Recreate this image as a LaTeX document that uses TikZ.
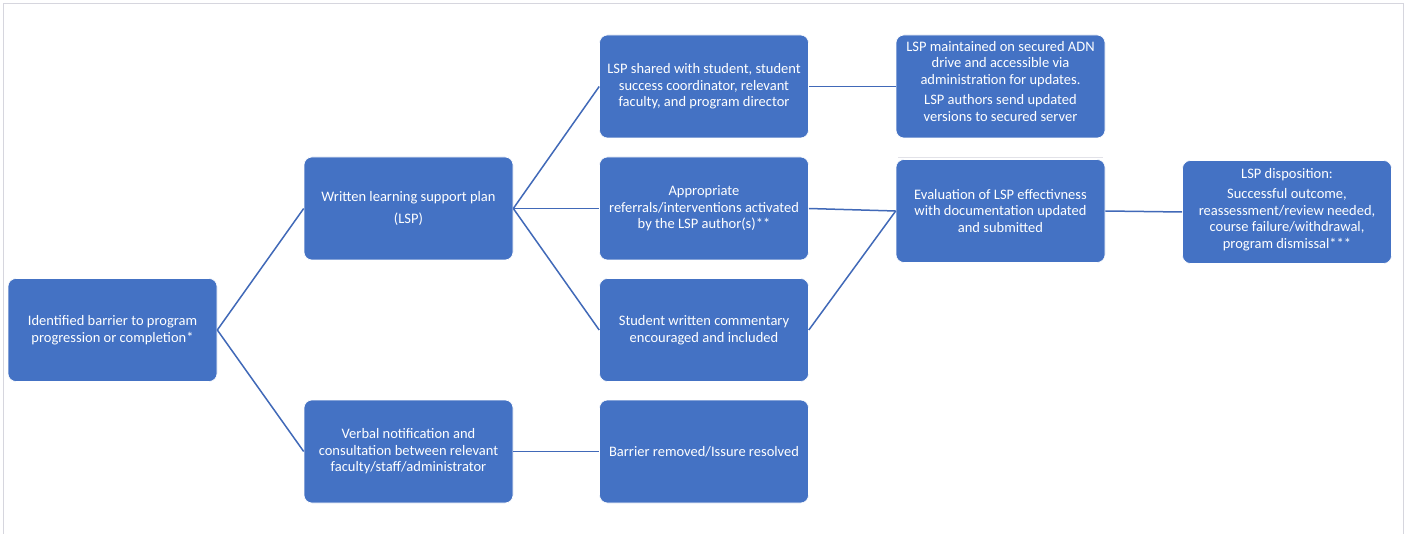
\documentclass[tikz,border=0pt]{standalone}
\usepackage{fontspec}
\setmainfont{Carlito}
\definecolor{boxblue}{HTML}{4472C4}
\definecolor{lineblue}{HTML}{4169B8}
\definecolor{framegray}{HTML}{D6D6DE}
\begin{document}
\begin{tikzpicture}[x=1pt,y=-1pt,
  txt/.style={text=white, align=center, inner sep=0pt, font=\fontsize{14.5}{16.5}\selectfont},
  box/.style={txt, fill=boxblue, draw=white, line width=0.6pt, rounded corners=8pt, minimum width=209pt, minimum height=103pt},
  conn/.style={draw=lineblue, line width=1.5pt}]
\useasboundingbox (0,0) rectangle (1407,534);
\fill[white] (0,0) rectangle (1407,534);
\draw[framegray, line width=1pt] (3,534) -- (3,4) -- (1403,4) -- (1403,534);
% nodes
\node[box] (idb) at (112.5,330) {Identified barrier to program\\progression or completion*};
\node[box] (wlsp) at (408.5,208.5) {Written learning support plan\\[5pt](LSP)};
\node[box] (verb) at (408.5,451.5) {Verbal notification and\\consultation between relevant\\faculty/staff/administrator};
\node[box] (shared) at (704,86.5) {LSP shared with student, student\\success coordinator, relevant\\faculty, and program director};
\node[box] (approp) at (704,208.5) {Appropriate\\referrals/interventions activated\\by the LSP author(s)**};
\node[box] (stud) at (704,330) {Student written commentary\\encouraged and included};
\node[box] (barr) at (704,451.5) {Barrier removed/Issure resolved};
\node[box] (maint) at (1000.5,86.5) {};
\node[txt, anchor=north] (mainttxt) at (1000.5,41) {LSP maintained on secured ADN\\drive and accessible via\\administration for updates.\\[4pt]LSP authors send updated\\versions to secured server};
\draw[framegray!70, line width=0.8pt] (898,157) -- (1103,157);
\node[box] (eval) at (1000.5,211) {Evaluation of LSP effectivness\\with documentation updated\\and submitted};
\node[box] (disp) at (1287,212) {};
\node[txt, anchor=north] (disptxt) at (1287,168) {LSP disposition:\\[4pt]Successful outcome,\\reassessment/review needed,\\course failure/withdrawal,\\program dismissal***};
% connectors
\draw[conn] (idb.east) -- (wlsp.west);
\draw[conn] (idb.east) -- (verb.west);
\draw[conn] (wlsp.east) -- (shared.west);
\draw[conn] (wlsp.east) -- (approp.west);
\draw[conn] (wlsp.east) -- (stud.west);
\draw[conn] (verb.east) -- (barr.west);
\draw[conn] (shared.east) -- (maint.west);
\draw[conn] (approp.east) -- (eval.west);
\draw[conn] (stud.east) -- (eval.west);
\draw[conn] (eval.east) -- (disp.west);
\end{tikzpicture}
\end{document}
